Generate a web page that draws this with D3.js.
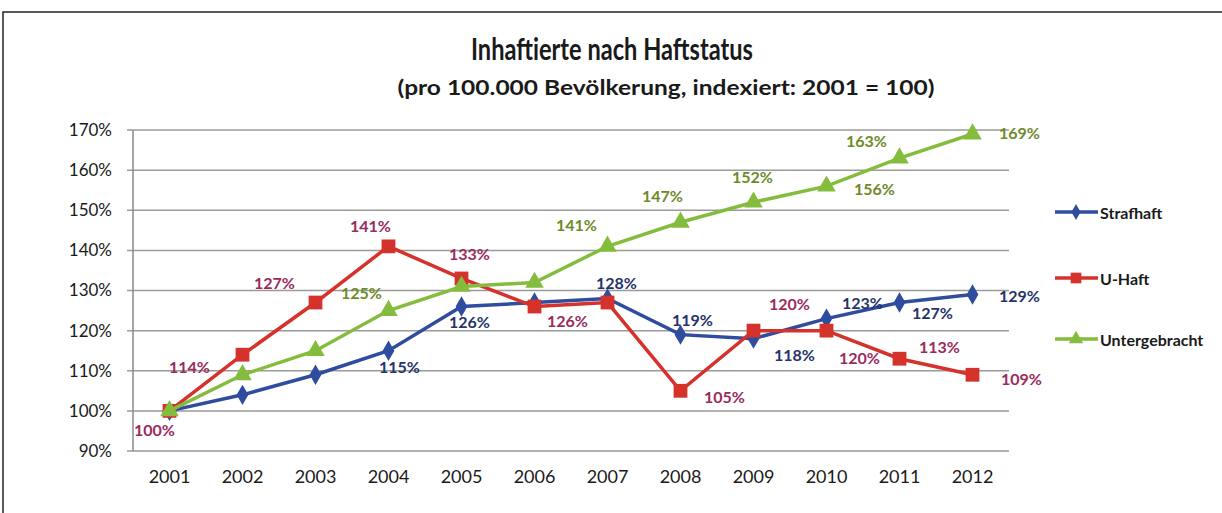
<!DOCTYPE html>
<html>
<head>
<meta charset="utf-8">
<script src="https://cdn.jsdelivr.net/npm/d3@7"></script>
<style>
  body { margin: 0; background: #fff; }
  svg { display: block; font-family: Lato, "Open Sans", sans-serif; }
</style>
</head>
<body>
<svg id="chart"></svg>
<script>
// values
const years = ['2001', '2002', '2003', '2004', '2005', '2006', '2007', '2008', '2009', '2010', '2011', '2012'];
const strafhaft = [100, 104, 109, 115, 126, 127, 128, 119, 118, 123, 127, 129];
const uHaft = [100, 114, 127, 141, 133, 126, 127, 105, 120, 120, 113, 109];
const untergebracht = [100, 109, 115, 125, 131, 132, 141, 147, 152, 156, 163, 169];
const yTicks = [90, 100, 110, 120, 130, 140, 150, 160, 170];

// label placement per point (null = no label shown), offsets in px
const strafOffsets = [null, null, null, [11, 16], [8, 15], null, [9, -16], [12, -15], [41, 16], [36, -16], [33, 10], [47, 1]];
const uHaftOffsets = [[-15, 19], [-53, 12], [-41, -20], [-18, -21], [8, -25], [33, 14], null, [44, 6], [36, -27], [33, 27], [40, -12], [49, 4]];
const untergOffsets = [null, null, null, [-27, -18], null, null, [-31, -22], [-18, -27], [-1, -26], [48, 2], [-33, -18], [47, -2]];

const width = 1222;
const height = 513;
const margin = { top: 130, right: 213, bottom: 62, left: 133 };

const svg = d3.select('#chart')
  .attr('width', width)
  .attr('height', height);

// page frame
svg.append('path')
  .attr('d', `M3,${height} L3,12 L${width},12`)
  .attr('fill', 'none')
  .attr('stroke', '#222')
  .attr('stroke-width', 1.5);

svg.append('text')
  .attr('x', 612).attr('y', 60)
  .attr('text-anchor', 'middle')
  .attr('font-size', 30).attr('font-weight', 'bold').attr('fill', '#1a1a1a')
  .attr('textLength', 282).attr('lengthAdjust', 'spacingAndGlyphs')
  .text('Inhaftierte nach Haftstatus');

svg.append('text')
  .attr('x', 666).attr('y', 95)
  .attr('text-anchor', 'middle')
  .attr('font-size', 20).attr('font-weight', 'bold').attr('fill', '#1a1a1a')
  .attr('textLength', 537).attr('lengthAdjust', 'spacingAndGlyphs')
  .text('(pro 100.000 Bevölkerung, indexiert: 2001 = 100)');

const x = d3.scaleBand()
  .domain(years)
  .range([margin.left, width - margin.right]);

const y = d3.scaleLinear()
  .domain([90, 170])
  .range([height - margin.bottom, margin.top]);

const cx = d => x(d) + x.bandwidth() / 2;

// gridlines
svg.append('g')
  .selectAll('line')
  .data(yTicks)
  .enter()
  .append('line')
  .attr('x1', margin.left - 6)
  .attr('x2', width - margin.right)
  .attr('y1', d => y(d))
  .attr('y2', d => y(d))
  .attr('stroke', '#9a9a9a')
  .attr('stroke-width', 1.5);

svg.append('line')
  .attr('x1', margin.left).attr('x2', margin.left)
  .attr('y1', y(170)).attr('y2', y(90))
  .attr('stroke', '#8a8a8a').attr('stroke-width', 1.5);

const yAxis = svg.append('g')
  .attr('transform', `translate(${margin.left},0)`)
  .call(d3.axisLeft(y).tickValues(yTicks).tickSize(0).tickPadding(21).tickFormat(d => d + '%'));
yAxis.select('.domain').remove();
yAxis.selectAll('text').attr('font-size', 17).attr('fill', '#1a1a1a').attr('font-family', 'Lato, sans-serif');

const xAxis = svg.append('g')
  .attr('transform', `translate(0,${height - margin.bottom})`)
  .call(d3.axisBottom(x).tickSize(0).tickPadding(19));
xAxis.select('.domain').remove();
xAxis.selectAll('text').attr('font-size', 18).attr('fill', '#1a1a1a').attr('font-family', 'Lato, sans-serif');

const series = [
  { name: 'Strafhaft', values: strafhaft, color: '#2f4c9e', labelColor: '#26336a', marker: d3.symbolDiamond, size: 120, offsets: strafOffsets },
  { name: 'U-Haft', values: uHaft, color: '#d5322b', labelColor: '#9a2c5c', marker: d3.symbolSquare, size: 190, offsets: uHaftOffsets },
  { name: 'Untergebracht', values: untergebracht, color: '#84bd3d', labelColor: '#6e8a28', marker: d3.symbolTriangle, size: 150, offsets: untergOffsets }
];

const line = d3.line()
  .x((d, i) => cx(years[i]))
  .y(d => y(d));

series.forEach(s => {
  const g = svg.append('g');
  g.append('path')
    .datum(s.values)
    .attr('d', line)
    .attr('fill', 'none')
    .attr('stroke', s.color)
    .attr('stroke-width', 3.5);

  g.selectAll('path.marker')
    .data(s.values)
    .enter()
    .append('path')
    .attr('class', 'marker')
    .attr('d', d3.symbol().type(s.marker).size(s.size))
    .attr('transform', (d, i) => `translate(${cx(years[i])},${y(d)})`)
    .attr('fill', s.color);
});

// data labels drawn on top of all lines
series.forEach(s => {
  svg.append('g')
    .selectAll('text')
    .data(s.values.map((v, i) => ({ v, i, off: s.offsets[i] })).filter(d => d.off))
    .enter()
    .append('text')
    .attr('x', d => cx(years[d.i]) + d.off[0])
    .attr('y', d => y(d.v) + d.off[1])
    .attr('text-anchor', 'middle')
    .attr('dominant-baseline', 'central')
    .attr('font-size', 16)
    .attr('font-weight', 'bold')
    .attr('fill', s.labelColor)
    .text(d => d.v + '%');
});

// legend
const legendY = [212, 278, 339];
series.forEach((s, i) => {
  const g = svg.append('g').attr('transform', `translate(1055,${legendY[i]})`);
  g.append('line')
    .attr('x1', 0).attr('x2', 43)
    .attr('stroke', s.color).attr('stroke-width', 3.5);
  g.append('path')
    .attr('d', d3.symbol().type(s.marker).size(s.size * 0.6))
    .attr('transform', 'translate(21,0)')
    .attr('fill', s.color);
  g.append('text')
    .attr('x', 45)
    .attr('dominant-baseline', 'central')
    .attr('font-size', 16)
    .attr('font-weight', 'bold')
    .attr('fill', '#1a1a1a')
    .text(s.name);
});
</script>
</body>
</html>
